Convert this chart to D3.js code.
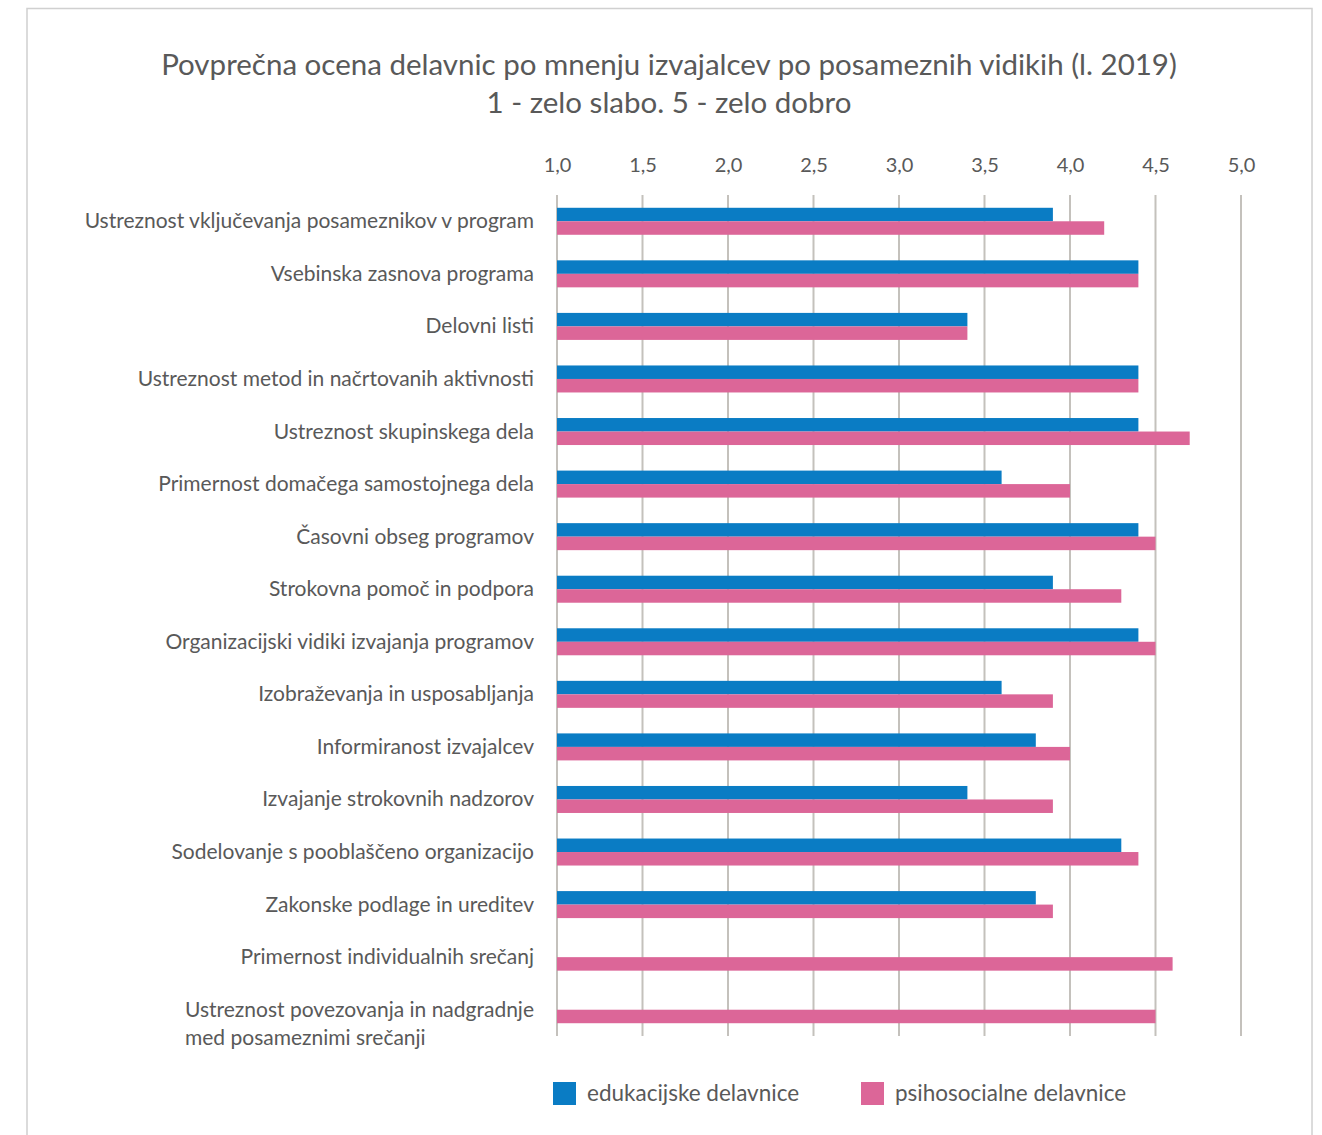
<!DOCTYPE html>
<html>
<head>
<meta charset="utf-8">
<script src="https://cdn.jsdelivr.net/npm/d3@7"></script>
<style>
  body { margin: 0; background: #fff; }
  svg { font-family: Lato, 'Open Sans', sans-serif; }
</style>
</head>
<body>
<svg class="chartSVG" width="1322" height="1135"></svg>
<script>
// categories (top to bottom) and values
const categories = [
  'Ustreznost vključevanja posameznikov v program',
  'Vsebinska zasnova programa',
  'Delovni listi',
  'Ustreznost metod in načrtovanih aktivnosti',
  'Ustreznost skupinskega dela',
  'Primernost domačega samostojnega dela',
  'Časovni obseg programov',
  'Strokovna pomoč in podpora',
  'Organizacijski vidiki izvajanja programov',
  'Izobraževanja in usposabljanja',
  'Informiranost izvajalcev',
  'Izvajanje strokovnih nadzorov',
  'Sodelovanje s pooblaščeno organizacijo',
  'Zakonske podlage in ureditev',
  'Primernost individualnih srečanj',
  'Ustreznost povezovanja in nadgradnje|med posameznimi srečanji'
];
const edukacijske = [3.9, 4.4, 3.4, 4.4, 4.4, 3.6, 4.4, 3.9, 4.4, 3.6, 3.8, 3.4, 4.3, 3.8, null, null];
const psihosocialne = [4.2, 4.4, 3.4, 4.4, 4.7, 4.0, 4.5, 4.3, 4.5, 3.9, 4.0, 3.9, 4.4, 3.9, 4.6, 4.5];
const seriesNames = ['edukacijske delavnice', 'psihosocialne delavnice'];
const seriesColors = ['#0a7cc4', '#dc6698'];
const xTicks = [1.0, 1.5, 2.0, 2.5, 3.0, 3.5, 4.0, 4.5, 5.0];
const titleLines = [
  'Povprečna ocena delavnic po mnenju izvajalcev po posameznih vidikih (l. 2019)',
  '1 - zelo slabo. 5 - zelo dobro'
];

function drawChart() {
  const svg = d3.select('svg.chartSVG');
  const textCol = '#595959';

  // outer frame
  svg.append('rect')
    .attr('x', 27).attr('y', 8.5)
    .attr('width', 1285).attr('height', 1140)
    .style('fill', 'none')
    .style('stroke', '#d0d0d0')
    .style('stroke-width', 1.5);

  // title
  svg.selectAll('text.title')
    .data(titleLines)
    .enter()
    .append('text')
    .attr('class', 'title')
    .text(d => d)
    .attr('x', 669)
    .attr('y', (d, i) => 75 + i * 38)
    .style('text-anchor', 'middle')
    .style('fill', textCol)
    .style('font-size', '29.5px');

  const x = d3.scaleLinear().domain([1, 5]).range([557, 1241]);
  const y = d3.scaleBand().domain(categories).range([195, 1036]);
  const barH = 13.5;

  // gridlines
  svg.append('g')
    .selectAll('line')
    .data(xTicks)
    .enter()
    .append('line')
    .attr('x1', d => x(d)).attr('x2', d => x(d))
    .attr('y1', 195).attr('y2', 1036)
    .style('stroke', '#c4c1bc')
    .style('stroke-width', 2);

  // top axis labels
  const axis = svg.append('g')
    .attr('transform', 'translate(0,172)')
    .call(d3.axisTop(x).tickValues(xTicks).tickSize(0).tickPadding(0)
      .tickFormat(d => d3.format('.1f')(d).replace('.', ',')));
  axis.select('.domain').remove();
  axis.selectAll('text')
    .style('font-family', 'Lato, sans-serif')
    .style('font-size', '20px')
    .style('fill', textCol);

  // bars
  const series = [edukacijske, psihosocialne];
  series.forEach((vals, s) => {
    svg.append('g')
      .selectAll('rect')
      .data(categories.map((c, i) => ({c: c, v: vals[i]})).filter(d => d.v !== null))
      .enter()
      .append('rect')
      .attr('x', x(1))
      .attr('y', d => y(d.c) + y.bandwidth() / 2 - barH + s * barH)
      .attr('width', d => x(d.v) - x(1))
      .attr('height', barH)
      .style('fill', seriesColors[s]);
  });

  // category labels
  const labG = svg.append('g');
  categories.forEach(c => {
    const lines = c.split('|');
    const t = labG.append('text')
      .style('fill', textCol)
      .style('font-size', '21px');
    const cy = y(c) + y.bandwidth() / 2 + 7;
    if (lines.length === 1) {
      t.attr('x', 534).attr('y', cy).style('text-anchor', 'end').text(c);
    } else {
      lines.forEach((l, i) => {
        t.append('tspan').attr('y', cy + i * 28).text(l);
      });
      const w = t.select('tspan').node().getComputedTextLength();
      t.selectAll('tspan').attr('x', 534 - w);
    }
  });

  // legend
  const leg = svg.append('g')
    .selectAll('g')
    .data(seriesNames)
    .enter()
    .append('g')
    .attr('transform', (d, i) => `translate(${553 + i * 308},1082)`);
  leg.append('rect')
    .attr('width', 23).attr('height', 23)
    .style('fill', (d, i) => seriesColors[i]);
  leg.append('text')
    .text(d => d)
    .attr('x', 34).attr('y', 19)
    .style('fill', textCol)
    .style('font-size', '22.5px');
}

drawChart();
</script>
</body>
</html>
